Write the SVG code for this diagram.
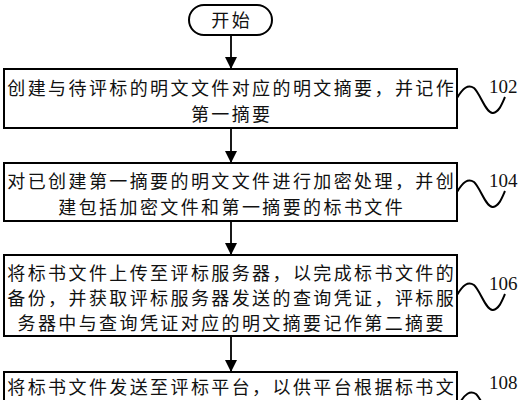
<svg xmlns="http://www.w3.org/2000/svg" width="522" height="400" viewBox="0 0 522 400">
<defs>
<style>
.box{fill:#fff;stroke:#000;stroke-width:2}
.t{font-family:"Noto Sans CJK SC","Noto Sans CJK JP",sans-serif;font-size:18px;letter-spacing:2.4px;fill:#111;text-anchor:middle}
.lbl{font-family:"Liberation Serif","Times New Roman",serif;font-size:19px;fill:#111}
.sq{fill:none;stroke:#000;stroke-width:2}
.ln{stroke:#000;stroke-width:1.8;fill:none}
</style>
<marker id="ah" markerWidth="12" markerHeight="12" viewBox="0 0 12 12" refX="12" refY="6" orient="auto" markerUnits="userSpaceOnUse">
<path d="M0,0 L12,6 L0,12 z" fill="#000"/>
</marker>
</defs>
<rect width="522" height="400" fill="#fff"/>
<g id="connectors">
<line class="ln" x1="231" y1="35" x2="231" y2="69" marker-end="url(#ah)"/>
<line class="ln" x1="231" y1="128" x2="231" y2="163" marker-end="url(#ah)"/>
<line class="ln" x1="231" y1="221" x2="231" y2="255" marker-end="url(#ah)"/>
<line class="ln" x1="231" y1="336" x2="231" y2="372" marker-end="url(#ah)"/>
</g>
<g id="start">
<rect class="box" x="189" y="5" width="83" height="30" rx="15"/>
<text class="t" x="231.7" y="26.5">开始</text>
</g>
<g id="step102">
<rect class="box" x="4" y="69" width="453" height="59"/>
<text class="t" x="231.7" y="95">创建与待评标的明文文件对应的明文摘要，并记作</text>
<text class="t" x="231.7" y="120.5">第一摘要</text>
<path class="sq" d="M457,98 C463,88 468,84 474,88 C480,93 486,114 493,113 C499,112 502,104 505,97"/>
<text class="lbl" x="489" y="93">102</text>
</g>
<g id="step104">
<rect class="box" x="4" y="163" width="453" height="58"/>
<text class="t" x="231.7" y="188">对已创建第一摘要的明文文件进行加密处理，并创</text>
<text class="t" x="231.7" y="214">建包括加密文件和第一摘要的标书文件</text>
<path class="sq" d="M457,192 C463,182 468,178 474,182 C480,187 486,208 493,207 C499,206 502,198 505,191"/>
<text class="lbl" x="489" y="187">104</text>
</g>
<g id="step106">
<rect class="box" x="4" y="255" width="453" height="81"/>
<text class="t" x="231.7" y="279.5">将标书文件上传至评标服务器，以完成标书文件的</text>
<text class="t" x="231.7" y="304.5">备份，并获取评标服务器发送的查询凭证，评标服</text>
<text class="t" x="231.7" y="329.5">务器中与查询凭证对应的明文摘要记作第二摘要</text>
<path class="sq" d="M457,295 C463,285 468,281 474,285 C480,290 486,311 493,310 C499,309 502,301 505,294"/>
<text class="lbl" x="489" y="290">106</text>
</g>
<g id="step108">
<rect class="box" x="4" y="372" width="453" height="60"/>
<text class="t" x="231.7" y="394">将标书文件发送至评标平台，以供平台根据标书文</text>
<path class="sq" d="M459,404 C465,394 470,390 476,394 C482,399 488,420 495,419 C501,418 504,410 507,403"/>
<text class="lbl" x="489" y="389">108</text>
</g>
</svg>
